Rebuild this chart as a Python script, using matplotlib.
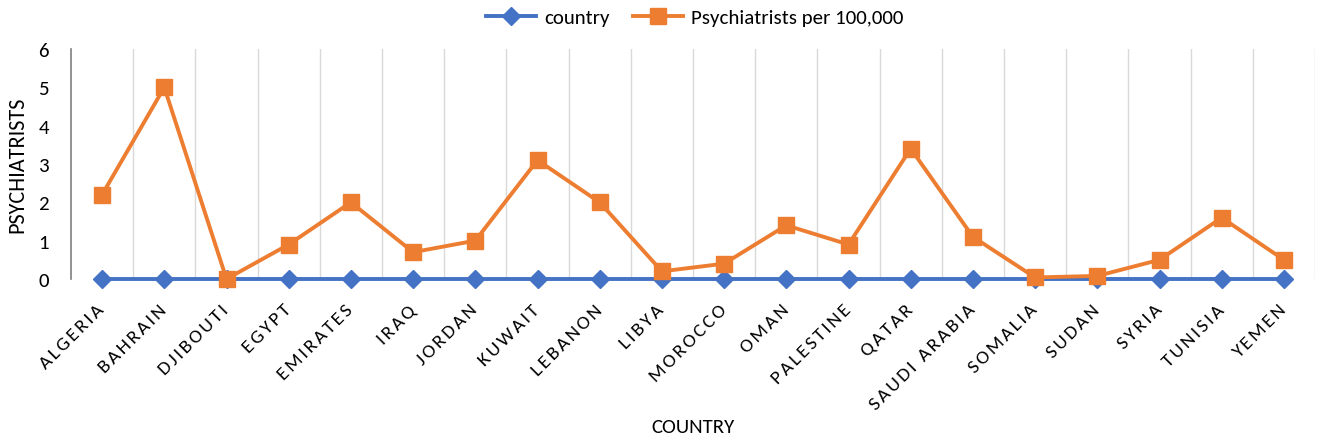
import matplotlib
matplotlib.use("Agg")
import matplotlib.pyplot as plt
import matplotlib.transforms as mtransforms
import numpy as np

plt.rcParams['font.family'] = ['Carlito', 'Liberation Sans Narrow', 'DejaVu Sans']

countries = ["ALGERIA", "BAHRAIN", "DJIBOUTI", "EGYPT", "EMIRATES", "IRAQ", "JORDAN",
             "KUWAIT", "LEBANON", "LIBYA", "MOROCCO", "OMAN", "PALESTINE", "QATAR",
             "SAUDI ARABIA", "SOMALIA", "SUDAN", "SYRIA", "TUNISIA", "YEMEN"]
country_series = [0] * 20
psychiatrists = [2.2, 5.0, 0.0, 0.9, 2.0, 0.7, 1.0, 3.1, 2.0, 0.2, 0.4, 1.4, 0.9, 3.4,
                 1.1, 0.04, 0.08, 0.5, 1.6, 0.5]
yticks = [0, 1, 2, 3, 4, 5, 6]

BLUE = "#4472C4"
ORANGE = "#ED7D31"

fig = plt.figure(figsize=(13.17, 4.39), dpi=100)
ax = fig.add_axes([71/1317, 159/439, (1315-71)/1317, (280-50)/439])

x = np.arange(len(countries))
ax.plot(x, country_series, color=BLUE, lw=2.8, marker="D", ms=9, label="country",
        clip_on=False, zorder=3)
ax.plot(x, psychiatrists, color=ORANGE, lw=2.8, marker="s", ms=11,
        label="Psychiatrists per 100,000", clip_on=False, zorder=4)

ax.set_xlim(-0.5, len(countries) - 0.5)
ax.set_ylim(0, 6)
ax.set_yticks(yticks)
ax.set_yticklabels([str(v) for v in yticks], fontsize=15)
ax.set_xticks(x)
spaced = ["\u200a".join(c) for c in countries]
ax.set_xticklabels(spaced, rotation=45, ha="right", rotation_mode="anchor",
                   fontsize=14)
ax.tick_params(axis="x", length=0, pad=13)
ax.tick_params(axis="y", length=0, pad=16)

offset = mtransforms.ScaledTranslation(-6/100, -4/100, fig.dpi_scale_trans)
for lbl in ax.get_xticklabels():
    lbl.set_transform(lbl.get_transform() + offset)

for b in np.arange(0.5, len(countries), 1.0):
    ax.axvline(b, color="#D9D9D9", lw=1, zorder=0)

for s in ["top", "right", "bottom"]:
    ax.spines[s].set_visible(False)
ax.spines["left"].set_color("#7F7F7F")
ax.spines["left"].set_linewidth(1.2)

ax.set_ylabel("PSYCHIATRISTS", fontsize=16, labelpad=8)
ax.set_xlabel("COUNTRY", fontsize=15, labelpad=4)

fig.legend(loc="center", bbox_to_anchor=(695/1317, 1 - 18/439), ncol=2, frameon=False,
           fontsize=15, handlelength=2.4, handletextpad=0.4, columnspacing=1.1)

fig.savefig("out.png", dpi=100)
